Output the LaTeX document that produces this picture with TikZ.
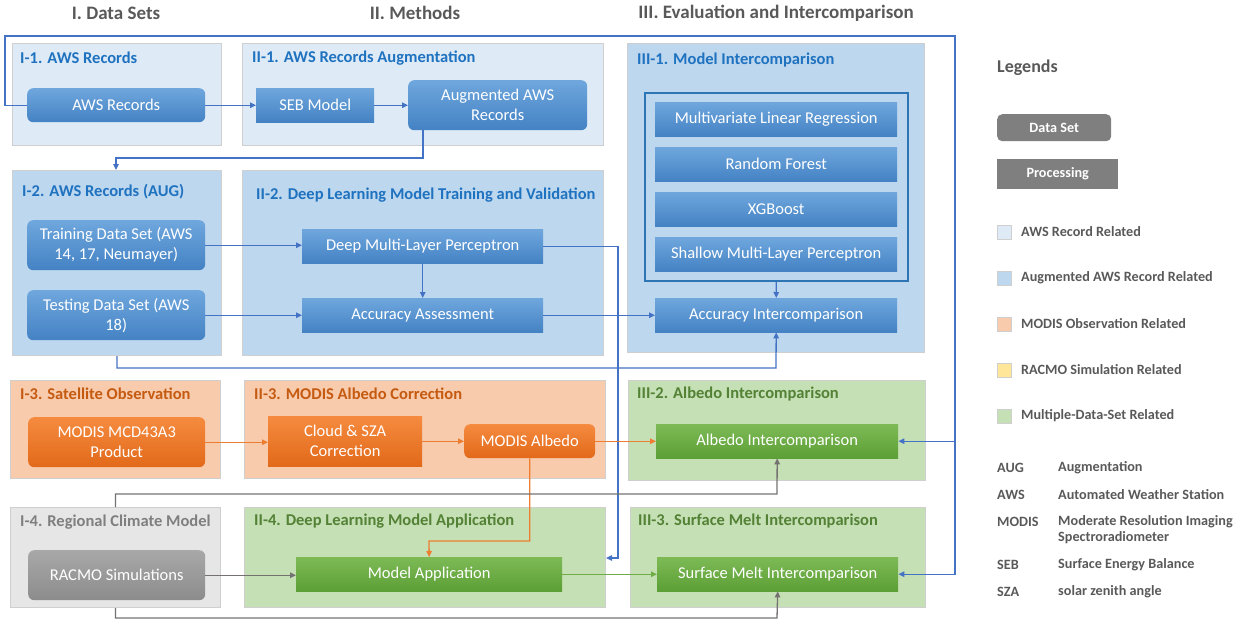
\documentclass[tikz,border=0pt]{standalone}
\usepackage{fontspec}
\setmainfont{Carlito}
\usetikzlibrary{arrows.meta}

\definecolor{awsfill}{HTML}{DEEBF7}
\definecolor{augfill}{HTML}{BDD7EE}
\definecolor{modfill}{HTML}{F8CBAD}
\definecolor{racfill}{HTML}{FFE699}
\definecolor{mulfill}{HTML}{C5E0B4}
\definecolor{rcmfill}{HTML}{E7E6E6}
\definecolor{panelline}{HTML}{CFCFCF}
\definecolor{bltop}{HTML}{6FA7DD}
\definecolor{blbot}{HTML}{4482C4}
\definecolor{ortop}{HTML}{F58B3F}
\definecolor{orbot}{HTML}{E2691A}
\definecolor{grtop}{HTML}{7DBA55}
\definecolor{grbot}{HTML}{5C9F36}
\definecolor{gytop}{HTML}{A8A8A8}
\definecolor{gybot}{HTML}{8C8C8C}
\definecolor{tblue}{HTML}{1F72BF}
\definecolor{torange}{HTML}{C55A11}
\definecolor{tgreen}{HTML}{538135}
\definecolor{tgray}{HTML}{7F7F7F}
\definecolor{headgray}{HTML}{595959}
\definecolor{lnblue}{HTML}{4472C4}
\definecolor{lnorange}{HTML}{ED7D31}
\definecolor{lngray}{HTML}{767171}
\definecolor{lngreen}{HTML}{70AD47}
\definecolor{frameblue}{HTML}{2E75B6}

\newcommand{\boxfont}{\fontsize{16.5}{20}\selectfont}
\newcommand{\titlefont}{\fontsize{16.5}{19}\selectfont\bfseries}
\newcommand{\legfont}{\fontsize{14.2}{16}\selectfont\bfseries}

\tikzset{
  panel/.style={draw=panelline, line width=1pt, anchor=north west, inner sep=0pt},
  ptitle/.style={anchor=west, font=\titlefont, inner sep=0pt},
  box/.style={text=white, align=center, font=\boxfont, inner sep=0pt, anchor=north west},
  dset/.style={box, rounded corners=6pt},
  blu/.style={top color=bltop, bottom color=blbot},
  ora/.style={top color=ortop, bottom color=orbot},
  gre/.style={top color=grtop, bottom color=grbot},
  gry/.style={top color=gytop, bottom color=gybot},
  link/.style={line width=1.3pt, -{Triangle[length=6pt,width=5.5pt]}},
  legsq/.style={draw=panelline, line width=0.8pt, minimum size=14pt, inner sep=0pt, anchor=west},
  legtext/.style={anchor=west, font=\legfont, text=headgray, inner sep=0pt},
  head/.style={font=\fontsize{19}{22}\selectfont\bfseries, text=headgray},
}

\begin{document}
\begin{tikzpicture}[x=1pt,y=-1pt]
\useasboundingbox (0,0) rectangle (1245,622);

% column headers
\node[head] (h1) at (116,13) {I. Data Sets};
\node[head] (h2) at (415,13) {II. Methods};
\node[head] (h3) at (776,13) {III. Evaluation and Intercomparison};

% panels
\node[panel, fill=awsfill, minimum width=209pt, minimum height=102pt] (p11) at (12,43) {};
\node[panel, fill=awsfill, minimum width=361pt, minimum height=102pt] (p21) at (242,43) {};
\node[panel, fill=augfill, minimum width=297pt, minimum height=309pt] (p31) at (627,43) {};
\node[panel, fill=augfill, minimum width=209pt, minimum height=185pt] (p12) at (12,170) {};
\node[panel, fill=augfill, minimum width=361pt, minimum height=185pt] (p22) at (242,170) {};
\node[panel, fill=modfill, minimum width=210pt, minimum height=98pt] (p13) at (10,380) {};
\node[panel, fill=modfill, minimum width=361pt, minimum height=98pt] (p23) at (244,380) {};
\node[panel, fill=mulfill, minimum width=297pt, minimum height=100pt] (p32) at (628,380) {};
\node[panel, fill=rcmfill, minimum width=210pt, minimum height=100pt] (p14) at (10,507) {};
\node[panel, fill=mulfill, minimum width=361pt, minimum height=100pt] (p24) at (244,507) {};
\node[panel, fill=mulfill, minimum width=295pt, minimum height=100pt] (p33) at (630,507) {};

\node[ptitle, text=tblue] (t11) at (20,58) {I-1. AWS Records};
\node[ptitle, text=tblue] (t21) at (252,58) {II-1. AWS Records Augmentation};
\node[ptitle, text=tblue] (t31) at (637,60) {III-1. Model Intercomparison};
\node[ptitle, text=tblue] (t12) at (22,192) {I-2. AWS Records (AUG)};
\node[ptitle, text=tblue] (t22) at (256,195) {II-2. Deep Learning Model Training and Validation};
\node[ptitle, text=torange] (t13) at (20,394) {I-3. Satellite Observation};
\node[ptitle, text=torange] (t23) at (254,394) {II-3. MODIS Albedo Correction};
\node[ptitle, text=tgreen] (t32) at (637,394) {III-2. Albedo Intercomparison};
\node[ptitle, text=tgray] (t14) at (20,522) {I-4. Regional Climate Model};
\node[ptitle, text=tgreen] (t24) at (254,521) {II-4. Deep Learning Model Application};
\node[ptitle, text=tgreen] (t33) at (638,521) {III-3. Surface Melt Intercomparison};

% boxes
\node[dset, blu, minimum width=178pt, minimum height=34pt] (aws) at (27,88) {AWS Records};
\node[box, blu, minimum width=118pt, minimum height=34pt] (seb) at (256,88) {SEB Model};
\node[dset, blu, minimum width=179pt, minimum height=50pt] (aug) at (408,80) {Augmented AWS\\Records};
\node[dset, blu, minimum width=178pt, minimum height=50pt] (train) at (27,220) {Training Data Set (AWS\\14, 17, Neumayer)};
\node[dset, blu, minimum width=178pt, minimum height=50pt] (test) at (27,290) {Testing Data Set (AWS\\18)};
\node[box, blu, minimum width=241pt, minimum height=34pt] (dmlp) at (302,229) {Deep Multi-Layer Perceptron};
\node[box, blu, minimum width=241pt, minimum height=34pt] (acc) at (302,298) {Accuracy Assessment};

\node[draw=frameblue, line width=1.6pt, anchor=north west, minimum width=263pt, minimum height=188pt, inner sep=0pt] (frame) at (644,92) {};
\node[box, blu, minimum width=242pt, minimum height=34pt] (mlr) at (655,102) {Multivariate Linear Regression};
\node[box, blu, minimum width=242pt, minimum height=34pt] (rf) at (655,147) {Random Forest};
\node[box, blu, minimum width=242pt, minimum height=34pt] (xgb) at (655,192) {XGBoost};
\node[box, blu, minimum width=242pt, minimum height=34pt] (smlp) at (655,237) {Shallow Multi-Layer Perceptron};
\node[box, blu, minimum width=242pt, minimum height=34pt] (accint) at (655,298) {Accuracy Intercomparison};

\node[dset, ora, minimum width=177pt, minimum height=50pt] (mcd) at (28,417) {MODIS MCD43A3\\Product};
\node[box, ora, minimum width=154pt, minimum height=50pt] (cloud) at (268,416) {Cloud \& SZA\\Correction};
\node[dset, ora, minimum width=131pt, minimum height=34pt] (modalb) at (464,424) {MODIS Albedo};
\node[box, gre, minimum width=242pt, minimum height=34pt] (albint) at (656,424) {Albedo Intercomparison};

\node[dset, gry, minimum width=177pt, minimum height=50pt] (racmo) at (28,550) {RACMO Simulations};
\node[box, gre, minimum width=266pt, minimum height=34pt] (modapp) at (296,557) {Model Application};
\node[box, gre, minimum width=241pt, minimum height=34pt] (melt) at (657,557) {Surface Melt Intercomparison};

% connectors
\coordinate (loopL) at (5,36);
\coordinate (loopR) at (955,36);
\draw[link, lnblue] (aws.west) -| (loopL) -- (loopR) |- (melt.east);
\draw[link, lnblue] (loopR |- albint.east) -- (albint.east);
\draw[link, lnblue] (aws.east) -- (seb.west);
\draw[link, lnblue] (seb.east) -- (aug.west);
\coordinate (augdrop) at (116,158);
\draw[link, lnblue] ([xshift=15pt]aug.south west) |- (augdrop) -- (augdrop |- p12.north);
\draw[link, lnblue] (train.east) -- (train.east -| dmlp.west);
\draw[link, lnblue] (test.east) -- (test.east -| acc.west);
\draw[link, lnblue] (dmlp.south) -- (acc.north);
\draw[link, lnblue] (acc.east) -- (accint.west);
\draw[link, lnblue] (frame.south) -- (accint.north);
\coordinate (dmlpdrop) at (618,558);
\draw[link, lnblue] (dmlp.east) -| (dmlpdrop) -- (p24.east |- dmlpdrop);
\coordinate (testjoin) at (776,368);
\draw[link, lnblue] (p12.south) |- (testjoin) -- (accint.south);

\draw[link, lnorange] (mcd.east) -- (mcd.east -| cloud.west);
\draw[link, lnorange] (cloud.east) -- (cloud.east -| modalb.west);
\draw[link, lnorange] (modalb.east) -- (albint.west);
\coordinate (albbend) at (429,541);
\draw[link, lnorange] (modalb.south) |- (albbend) -- (modapp.north);

\coordinate (rcmup) at (777,494);
\draw[link, lngray] (p14.north) |- (rcmup) -- (albint.south);
\draw[link, lngray] (racmo.east) -- (racmo.east -| modapp.west);
\coordinate (rcmdown) at (777,618);
\draw[link, lngray] (p14.south) |- (rcmdown) -- (melt.south);
\draw[link, lngreen] (modapp.east) -- (melt.west);

% legend
\node[anchor=west, font=\fontsize{18}{21}\selectfont\bfseries, text=headgray, inner sep=0pt] (leg) at (997,68) {Legends};
\node[anchor=north west, rounded corners=5pt, fill=tgray, text=white, font=\legfont, minimum width=114pt, minimum height=27pt, inner sep=0pt] (lds) at (997,114) {Data Set};
\node[anchor=north west, fill=tgray, text=white, font=\legfont, minimum width=121pt, minimum height=30pt, inner sep=0pt] (lpr) at (997,159) {Processing};
\node[legsq, fill=awsfill] (q1) at (997,232) {};
\node[legsq, fill=augfill] (q2) at (997,278) {};
\node[legsq, fill=modfill] (q3) at (997,324) {};
\node[legsq, fill=racfill] (q4) at (997,370) {};
\node[legsq, fill=mulfill] (q5) at (997,416) {};
\node[legtext] (l1) at (1021,232) {AWS Record Related};
\node[legtext] (l2) at (1021,278) {Augmented AWS Record Related};
\node[legtext] (l3) at (1021,324) {MODIS Observation Related};
\node[legtext] (l4) at (1021,370) {RACMO Simulation Related};
\node[legtext] (l5) at (1021,416) {Multiple-Data-Set Related};

\node[legtext] (a1) at (997,468) {AUG};
\node[legtext] (a2) at (997,495) {AWS};
\node[legtext] (a3) at (997,522) {MODIS};
\node[legtext] (a4) at (997,565) {SEB};
\node[legtext] (a5) at (997,592) {SZA};
\node[legtext] (d1) at (1058,468) {Augmentation};
\node[legtext] (d2) at (1058,495) {Automated Weather Station};
\node[legtext, anchor=north west, align=left] (d3) at (1058,515) {Moderate Resolution Imaging\\Spectroradiometer};
\node[legtext] (d4) at (1058,565) {Surface Energy Balance};
\node[legtext] (d5) at (1058,592) {solar zenith angle};
\end{tikzpicture}
\end{document}
